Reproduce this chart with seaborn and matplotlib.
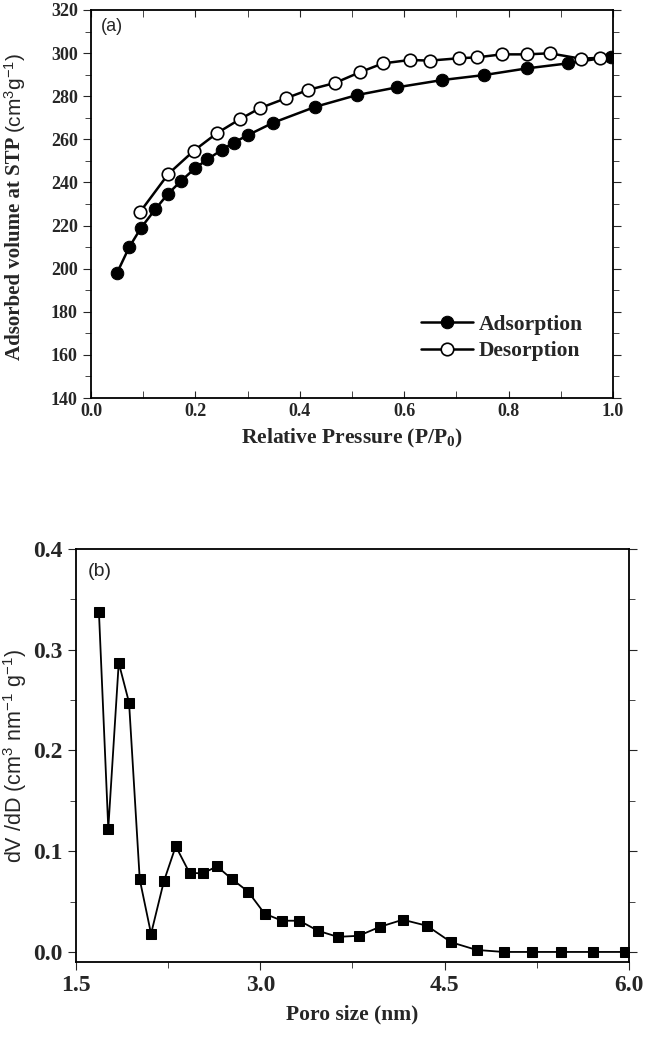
import numpy as np
import pandas as pd
import matplotlib
matplotlib.use('Agg')
import matplotlib.pyplot as plt
from matplotlib.ticker import MultipleLocator, FormatStrFormatter
import seaborn as sns

# Data
ads_p = [0.050, 0.073, 0.096, 0.123, 0.147, 0.173, 0.199, 0.223, 0.250, 0.273,
         0.301, 0.349, 0.430, 0.509, 0.586, 0.673, 0.753, 0.835, 0.913, 0.996]
ads_v = [198.1, 209.9, 219.0, 227.5, 234.6, 240.8, 246.5, 250.7, 255.0, 258.4,
         262.0, 267.7, 275.1, 280.5, 284.1, 287.5, 289.8, 292.9, 295.2, 298.3]
des_p = [0.094, 0.148, 0.197, 0.241, 0.285, 0.324, 0.373, 0.416, 0.467, 0.515,
         0.559, 0.611, 0.649, 0.705, 0.739, 0.787, 0.835, 0.879, 0.938, 0.976]
des_v = [226.3, 243.9, 254.7, 262.8, 269.3, 274.5, 279.0, 282.9, 286.1, 291.1,
         295.2, 296.8, 296.5, 297.6, 298.0, 299.4, 299.4, 299.9, 297.4, 297.8]

pore_d = [1.687, 1.763, 1.848, 1.932, 2.019, 2.111, 2.215, 2.312, 2.424, 2.533,
          2.647, 2.772, 2.900, 3.035, 3.177, 3.318, 3.470, 3.630, 3.800, 3.975,
          4.160, 4.356, 4.554, 4.760, 4.980, 5.210, 5.445, 5.710, 5.970]
dvdd = [0.337, 0.1225, 0.287, 0.2475, 0.072, 0.018, 0.070, 0.105, 0.0785, 0.078,
        0.085, 0.072, 0.060, 0.038, 0.031, 0.031, 0.021, 0.015, 0.016, 0.025,
        0.032, 0.026, 0.0096, 0.002, 0.0, 0.0, 0.0, 0.0, 0.0]

iso = pd.concat([
    pd.DataFrame({'p': ads_p, 'v': ads_v, 'branch': 'Adsorption'}),
    pd.DataFrame({'p': des_p, 'v': des_v, 'branch': 'Desorption'}),
])
psd = pd.DataFrame({'d': pore_d, 'dvdd': dvdd})

sns.set_style('ticks')
SERIF = 'Liberation Serif'
SANS = 'Liberation Sans'
# tick labels and axis titles: bold serif by default
plt.rcParams['font.family'] = [SERIF, 'DejaVu Serif']
plt.rcParams['font.weight'] = 'bold'
plt.rcParams['axes.labelweight'] = 'bold'
plt.rcParams['mathtext.default'] = 'regular'

fig = plt.figure(figsize=(6.46, 10.37), dpi=100)
ax1 = fig.add_axes([0.1409, 0.6162, 0.808, 0.3742])
ax2 = fig.add_axes([0.1176, 0.0723, 0.856, 0.3983])

#%% (a) isotherm
sns.lineplot(data=iso[iso.branch == 'Adsorption'], x='p', y='v', ax=ax1,
             color='black', lw=1.8, marker='o', ms=9, mfc='black', mec='black',
             label='Adsorption')
sns.lineplot(data=iso[iso.branch == 'Desorption'], x='p', y='v', ax=ax1,
             color='black', lw=1.8, marker='o', ms=9, mfc='white', mec='black',
             mew=1.2, label='Desorption')
ax1.set_ylim(140, 320)
ax1.set_xlim(0, 1.0)
ax1.xaxis.set_major_locator(MultipleLocator(0.2))
ax1.xaxis.set_minor_locator(MultipleLocator(0.1))
ax1.yaxis.set_major_locator(MultipleLocator(20))
ax1.yaxis.set_minor_locator(MultipleLocator(10))
ax1.xaxis.set_major_formatter(FormatStrFormatter('%.1f'))
ax1.tick_params(axis='x', which='both', direction='in', top=True, length=5)
ax1.tick_params(axis='y', which='major', direction='out', length=6)
ax1.tick_params(axis='y', which='minor', direction='out', length=4)
ax1.tick_params(axis='y', which='both', right=True)
ax1.tick_params(axis='both', labelsize=13)
ax1.set_xlabel('Relative Pressure (P/P$_0$)', fontweight='bold',
               fontsize=15.5, labelpad=5)
ax1.set_ylabel('')
ax1.text(0.018, 0.978, '(a)', transform=ax1.transAxes, fontfamily=SANS,
         fontweight='normal', fontsize=13, va='top')
leg = ax1.legend(loc='lower right', bbox_to_anchor=(0.98, 0.045),
                 frameon=False, handlelength=2.4, handletextpad=0.3,
                 labelspacing=0.3, prop={'family': SERIF, 'weight': 'bold',
                                         'size': 15.5})

# y label of (a): bold serif words plus sans unit
t1 = fig.text(0.023, 1 - 360 / 1037, 'Adsorbed volume at STP ', rotation=90,
              ha='center', va='bottom', fontweight='bold', fontsize=15)
fig.canvas.draw()
bb = t1.get_window_extent()
fig.text(0.023, bb.y1 / fig.bbox.height, '(cm$^3$g$^{-1}$)', rotation=90,
         ha='center', va='bottom', fontfamily=SANS, fontweight='normal',
         fontsize=15)

#%% (b) pore size distribution
sns.lineplot(data=psd, x='d', y='dvdd', ax=ax2, color='black', lw=1.3,
             marker='s', ms=7, mfc='black', mec='black')
ax2.set_xlim(1.5, 6.0)
ax2.set_ylim(-0.01, 0.4)
ax2.xaxis.set_major_locator(MultipleLocator(1.5))
ax2.xaxis.set_minor_locator(MultipleLocator(0.75))
ax2.yaxis.set_major_locator(MultipleLocator(0.1))
ax2.yaxis.set_minor_locator(MultipleLocator(0.05))
ax2.tick_params(axis='both', which='major', direction='out', length=6)
ax2.tick_params(axis='both', which='minor', direction='out', length=4)
ax2.tick_params(axis='y', which='both', right=True)
ax2.tick_params(axis='both', labelsize=17)
ax2.yaxis.set_major_formatter(FormatStrFormatter('%.1f'))
ax2.xaxis.set_major_formatter(FormatStrFormatter('%.1f'))
ax2.set_xlabel('Poro size (nm)', fontweight='bold', fontsize=15.5,
               labelpad=6)
ax2.set_ylabel('dV /dD (cm$^3$ nm$^{-1}$ g$^{-1}$)', fontfamily=SANS,
               fontweight='normal', fontsize=15.5)
ax2.yaxis.set_label_coords(-0.085, 0.5)
ax2.text(0.022, 0.965, '(b)', transform=ax2.transAxes, fontfamily=SANS,
         fontweight='normal', fontsize=14, va='top')

for ax in (ax1, ax2):
    for s in ax.spines.values():
        s.set_linewidth(1.3)
        s.set_color('black')

fig.savefig('out.png', dpi=100)
